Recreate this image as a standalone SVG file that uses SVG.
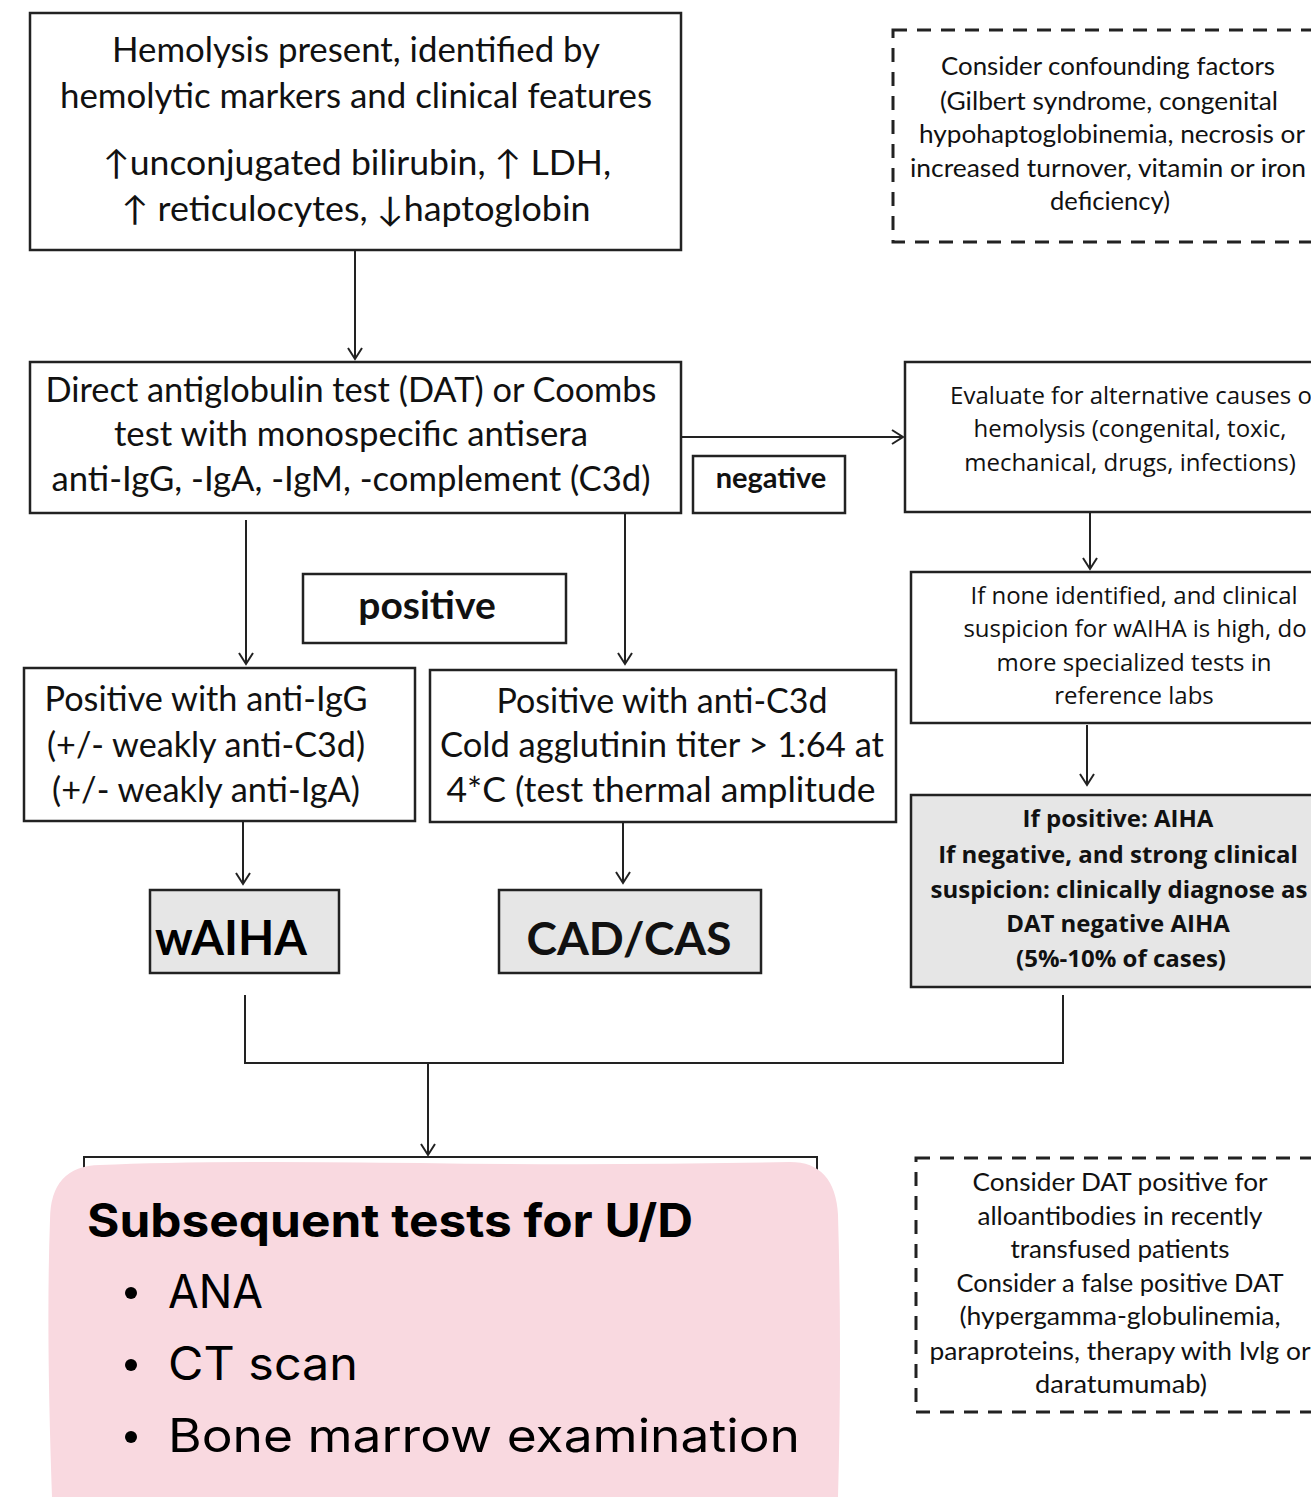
<svg xmlns="http://www.w3.org/2000/svg" width="1311" height="1497" viewBox="0 0 1311 1497">
<defs>
<marker id="arr" markerWidth="20" markerHeight="20" refX="12" refY="8" orient="auto" markerUnits="userSpaceOnUse">
<path d="M1,1 L12,8 L1,15" fill="none" stroke="#222" stroke-width="2"/>
</marker>
<style>
.box{fill:#fff;stroke:#222;stroke-width:2.5}
.gbox{fill:#e6e6e6;stroke:#222;stroke-width:2.5}
.dash{fill:none;stroke:#222;stroke-width:3;stroke-dasharray:14 10}
.c{font-family:Lato,"Liberation Sans",sans-serif;fill:#111;text-anchor:middle;font-size:34px}
.d{font-family:Lato,"Liberation Sans",sans-serif;fill:#111;text-anchor:middle;font-size:25px}
.o{font-family:"Open Sans","Liberation Sans",sans-serif;fill:#111;text-anchor:middle;font-size:24px}
.ln{fill:none;stroke:#222;stroke-width:2}
.p{font-family:Inter,"Liberation Sans",sans-serif;fill:#000;font-size:46px}
</style>
</defs>
<rect width="1311" height="1497" fill="#fff"/>

<g id="connectors">
<line class="ln" x1="355" y1="250" x2="355" y2="359" marker-end="url(#arr)"/>
<line class="ln" x1="681" y1="437" x2="903" y2="437" marker-end="url(#arr)"/>
<line class="ln" x1="1090" y1="512" x2="1090" y2="569" marker-end="url(#arr)"/>
<line class="ln" x1="1087" y1="725" x2="1087" y2="785" marker-end="url(#arr)"/>
<line class="ln" x1="246" y1="520" x2="246" y2="664" marker-end="url(#arr)"/>
<line class="ln" x1="625" y1="513" x2="625" y2="664" marker-end="url(#arr)"/>
<line class="ln" x1="243" y1="822" x2="243" y2="884" marker-end="url(#arr)"/>
<line class="ln" x1="623" y1="823" x2="623" y2="883" marker-end="url(#arr)"/>
<polyline class="ln" points="245,995 245,1063 1063,1063 1063,995"/>
<line class="ln" x1="428" y1="1063" x2="428" y2="1155" marker-end="url(#arr)"/>
</g>

<g id="hemolysis">
<rect class="box" x="30" y="13" width="651" height="237"/>
<text class="c" x="356" y="62" textLength="488" lengthAdjust="spacingAndGlyphs">Hemolysis present, identified by</text>
<text class="c" x="356" y="108" textLength="592" lengthAdjust="spacingAndGlyphs">hemolytic markers and clinical features</text>
<text class="c" x="357" y="175" textLength="508" lengthAdjust="spacingAndGlyphs">↑unconjugated bilirubin, ↑ LDH,</text>
<text class="c" x="356" y="221" textLength="469" lengthAdjust="spacingAndGlyphs">↑ reticulocytes, ↓haptoglobin</text>
</g>

<g id="confounding">
<rect class="dash" x="893" y="30" width="440" height="212"/>
<text class="d" x="1108" y="75" textLength="334" lengthAdjust="spacingAndGlyphs">Consider confounding factors</text>
<text class="d" x="1109" y="110" textLength="338" lengthAdjust="spacingAndGlyphs">(Gilbert syndrome, congenital</text>
<text class="d" x="1112" y="143" textLength="386" lengthAdjust="spacingAndGlyphs">hypohaptoglobinemia, necrosis or</text>
<text class="d" x="1108" y="177" textLength="396" lengthAdjust="spacingAndGlyphs">increased turnover, vitamin or iron</text>
<text class="d" x="1110" y="210" textLength="120" lengthAdjust="spacingAndGlyphs">deficiency)</text>
</g>

<g id="dat">
<rect class="box" x="30" y="362" width="651" height="151"/>
<text class="c" x="351" y="402" textLength="611" lengthAdjust="spacingAndGlyphs">Direct antiglobulin test (DAT) or Coombs</text>
<text class="c" x="351" y="446" textLength="474" lengthAdjust="spacingAndGlyphs">test with monospecific antisera</text>
<text class="c" x="351" y="491" textLength="599" lengthAdjust="spacingAndGlyphs">anti-IgG, -IgA, -IgM, -complement (C3d)</text>
</g>

<g id="negative">
<rect class="box" x="693" y="456" width="152" height="57"/>
<text class="c" style="font-size:29px" font-weight="bold" x="771" y="488">negative</text>
</g>

<g id="evaluate">
<rect class="box" x="905" y="362" width="430" height="150"/>
<text class="o" x="1135" y="404">Evaluate for alternative causes of</text>
<text class="o" x="1130" y="437">hemolysis (congenital, toxic,</text>
<text class="o" x="1130" y="471">mechanical, drugs, infections)</text>
</g>

<g id="none-identified">
<rect class="box" x="911" y="572" width="420" height="151"/>
<text class="o" x="1134" y="604">If none identified, and clinical</text>
<text class="o" x="1135" y="637">suspicion for wAIHA is high, do</text>
<text class="o" x="1134" y="671">more specialized tests in</text>
<text class="o" x="1134" y="704">reference labs</text>
</g>

<g id="dat-negative-aiha">
<rect class="gbox" x="911" y="795" width="420" height="192"/>
<text class="o" font-weight="bold" x="1118" y="827">If positive: AIHA</text>
<text class="o" font-weight="bold" x="1118" y="863">If negative, and strong clinical</text>
<text class="o" font-weight="bold" x="1119" y="898">suspicion: clinically diagnose as</text>
<text class="o" font-weight="bold" x="1118" y="932">DAT negative AIHA</text>
<text class="o" font-weight="bold" x="1121" y="967">(5%-10% of cases)</text>
</g>

<g id="positive">
<rect class="box" x="303" y="574" width="263" height="69"/>
<text class="c" style="font-size:39px" font-weight="bold" x="427" y="619">positive</text>
</g>

<g id="igg">
<rect class="box" x="24" y="668" width="391" height="153"/>
<text class="c" x="206" y="711" textLength="323" lengthAdjust="spacingAndGlyphs">Positive with anti-IgG</text>
<text class="c" x="206" y="757" textLength="318" lengthAdjust="spacingAndGlyphs">(+/- weakly anti-C3d)</text>
<text class="c" x="206" y="802" textLength="308" lengthAdjust="spacingAndGlyphs">(+/- weakly anti-IgA)</text>
</g>

<g id="c3d">
<rect class="box" x="430" y="670" width="466" height="152"/>
<text class="c" x="662" y="713" textLength="331" lengthAdjust="spacingAndGlyphs">Positive with anti-C3d</text>
<text class="c" x="662" y="757" textLength="444" lengthAdjust="spacingAndGlyphs">Cold agglutinin titer &gt; 1:64 at</text>
<text class="c" x="661" y="802" textLength="429" lengthAdjust="spacingAndGlyphs">4*C (test thermal amplitude</text>
</g>

<g id="waiha">
<rect class="gbox" x="150" y="890" width="189" height="83"/>
<text font-family="Lato,'Liberation Sans',sans-serif" font-weight="bold" font-size="47" fill="#000" x="155" y="955" textLength="152" lengthAdjust="spacingAndGlyphs">wAIHA</text>
</g>

<g id="cad">
<rect class="gbox" x="499" y="890" width="262" height="83"/>
<text class="c" font-weight="bold" style="font-size:46px" fill="#000" x="629" y="955">CAD/CAS</text>
</g>

<g id="subsequent">
<polyline fill="none" stroke="#222" stroke-width="2" points="84,1180 84,1157 817,1157 817,1180"/>
<path d="M100,1165 Q200,1160 420,1163 Q600,1166 790,1162 Q835,1162 838,1215 Q842,1350 838,1497 L52,1497 Q46,1330 50,1220 Q50,1166 100,1165 Z" fill="#f9d9e0"/>
<text class="p" font-weight="bold" x="87" y="1237" textLength="606" lengthAdjust="spacingAndGlyphs">Subsequent tests for U/D</text>
<circle cx="131" cy="1293" r="6"/>
<text class="p" x="168" y="1308" textLength="95" lengthAdjust="spacingAndGlyphs">ANA</text>
<circle cx="131" cy="1365" r="6"/>
<text class="p" x="168" y="1380" textLength="190" lengthAdjust="spacingAndGlyphs">CT scan</text>
<circle cx="131" cy="1437" r="6"/>
<text class="p" x="168" y="1452" textLength="632" lengthAdjust="spacingAndGlyphs">Bone marrow examination</text>
</g>

<g id="dat-positive-note">
<rect class="dash" x="916" y="1158" width="420" height="254"/>
<text class="d" x="1120" y="1191" textLength="295" lengthAdjust="spacingAndGlyphs">Consider DAT positive  for</text>
<text class="d" x="1120" y="1225" textLength="285" lengthAdjust="spacingAndGlyphs">alloantibodies in recently</text>
<text class="d" x="1120" y="1258" textLength="219" lengthAdjust="spacingAndGlyphs">transfused patients</text>
<text class="d" x="1120" y="1292" textLength="327" lengthAdjust="spacingAndGlyphs">Consider a false positive DAT</text>
<text class="d" x="1120" y="1325" textLength="321" lengthAdjust="spacingAndGlyphs">(hypergamma-globulinemia,</text>
<text class="d" x="1120" y="1360" textLength="381" lengthAdjust="spacingAndGlyphs">paraproteins, therapy with Ivlg or</text>
<text class="d" x="1121" y="1393" textLength="172" lengthAdjust="spacingAndGlyphs">daratumumab)</text>
</g>
</svg>
